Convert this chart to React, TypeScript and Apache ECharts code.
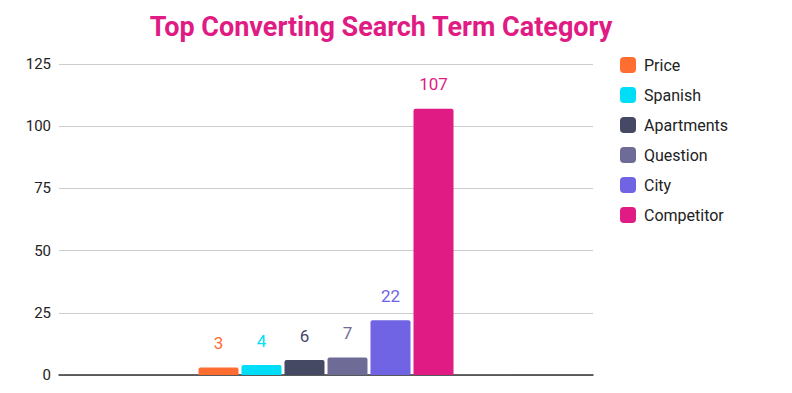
import React, { useEffect, useRef } from "react";
import * as echarts from "echarts";

const categories = ["Top Converting Search Term Category"];
const seriesNames = ["Price", "Spanish", "Apartments", "Question", "City", "Competitor"];
const seriesValues = [3, 4, 6, 7, 22, 107];
const seriesColors = ["#FF6D31", "#00DDF6", "#464964", "#6E6C96", "#7064E5", "#E01B84"];
const yTicks = [0, 25, 50, 75, 100, 125];

export default function App() {
  const ref = useRef<HTMLDivElement>(null);
  useEffect(() => {
    const chart = echarts.init(ref.current!, null, { renderer: "svg" });
    chart.setOption({
      animation: false,
      textStyle: { fontFamily: "Roboto" },
      title: {
        text: "Top Converting Search Term Category",
        left: 368,
        textAlign: "center",
        top: 0,
        textStyle: { color: "#E01B84", fontSize: 27, fontWeight: "bold", fontFamily: "Roboto" },
      },
      legend: {
        orient: "vertical",
        left: 607,
        top: 44,
        itemWidth: 16,
        itemHeight: 16,
        itemGap: 14,
        icon: "roundRect",
        textStyle: { color: "#222", fontSize: 16, fontFamily: "Roboto", padding: [0, 0, 0, 3] },
        data: seriesNames,
      },
      grid: { left: 51, right: 191, top: 56, bottom: 10 },
      xAxis: {
        type: "category",
        data: categories,
        axisLine: { lineStyle: { color: "#333", width: 1.5 } },
        axisTick: { show: false },
        axisLabel: { show: false },
      },
      yAxis: {
        type: "value",
        min: yTicks[0],
        max: yTicks[yTicks.length - 1],
        interval: 25,
        axisLine: { show: false },
        axisTick: { show: false },
        axisLabel: { color: "#222", fontSize: 15, margin: 8, fontFamily: "Roboto" },
        splitLine: { lineStyle: { color: "#cccccc" } },
      },
      series: seriesNames.map((name, i) => ({
        name,
        type: "bar",
        data: [seriesValues[i]],
        barWidth: 40,
        barGap: "7.5%",
        itemStyle: { color: seriesColors[i], borderRadius: [2, 2, 0, 0] },
        label: {
          show: true,
          position: "top",
          distance: 16,
          color: seriesColors[i],
          fontSize: 17,
          fontFamily: "Roboto",
        },
      })),
    });
    return () => chart.dispose();
  }, []);
  return <div ref={ref} style={{ width: 776, height: 377 }} />;
}
